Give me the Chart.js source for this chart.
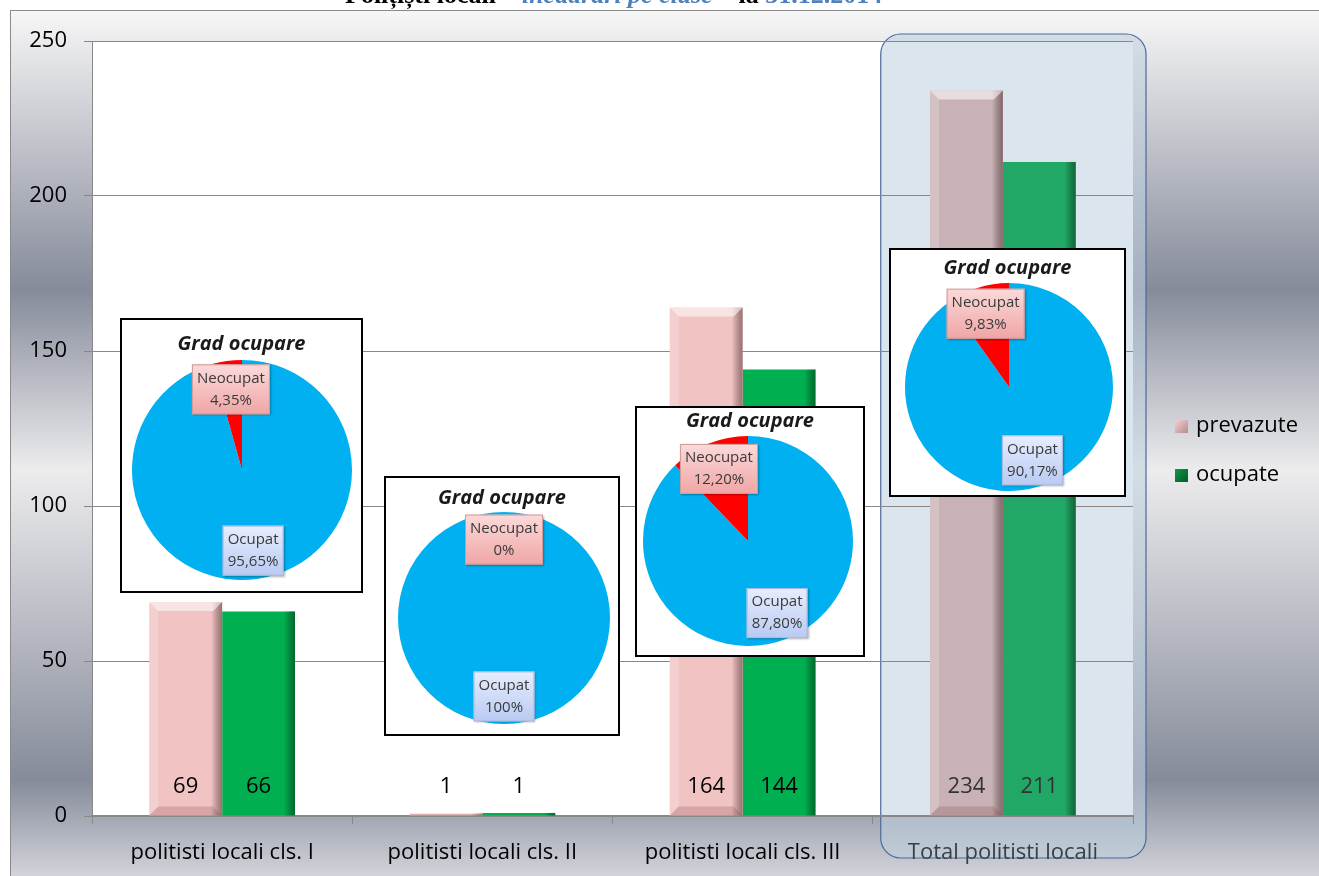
<!DOCTYPE html>
<html lang="ro">
<head>
<meta charset="UTF-8">
<title>Polițiști locali – încadrări pe clase</title>
<script src="https://cdn.jsdelivr.net/npm/chart.js@4.4.0/dist/chart.umd.min.js"></script>
<style>
  html, body { margin: 0; padding: 0; background: #fff; }
  body { width: 1319px; height: 876px; position: relative; overflow: hidden; font-family: "Open Sans", sans-serif; }
  #main { position: absolute; left: 0; top: 0; }
  .title { position: absolute; top: -18px; left: 345px; font: bold 26px "Liberation Serif", serif; line-height: 26px; white-space: nowrap; color: #000; }
  .title .blue { color: #4f81bd; }
  .title i { color: #4f81bd; }
  .legend { position: absolute; left: 1175px; font-size: 22px; color: #000; }
  .legend div { position: absolute; left: 0; height: 30px; line-height: 30px; white-space: nowrap; }
  .legend span.sw { display: inline-block; width: 13px; height: 13px; margin-right: 8px; vertical-align: -1px; }
  .inset { position: absolute; border: 2px solid #000; background: #fff; box-sizing: border-box; }
  .inset .t { position: absolute; left: 0; right: 0; margin: 0; text-align: center; font: italic bold 20px "Open Sans", sans-serif; line-height: 24px; color: #1a1a1a; }
  .inset canvas { position: absolute; left: 0; top: 0; }
</style>
</head>
<body>
<canvas id="main" width="1319" height="876"></canvas>
<div class="title">Polițiști locali – <i>încadrări pe clase</i> – la <span class="blue">31.12.2014</span></div>
<div class="legend">
  <div style="top:408px"><span class="sw" style="background:linear-gradient(135deg,#f4d0d0,#b78b8b)"></span>prevazute</div>
  <div style="top:457px"><span class="sw" style="background:linear-gradient(135deg,#0f9a4a,#005a28)"></span>ocupate</div>
</div>
<div id="insets"></div>

<script>
// chart data
const categories = ['politisti locali cls. I', 'politisti locali cls. II', 'politisti locali cls. III', 'Total politisti locali'];
const prevazute = [69, 1, 164, 234];
const ocupate = [66, 1, 144, 211];
const yTicks = [0, 50, 100, 150, 200, 250];

// pie insets (grad ocupare, %)
const sliceNames = ['Ocupat', 'Neocupat'];
const ocupatPct = [95.65, 100, 87.80, 90.17];
const neocupatPct = [4.35, 0, 12.20, 9.83];
const pieTitle = 'Grad ocupare';

const FONT = '"Open Sans", sans-serif';
const pink = '#f2c3c3', green = '#00b050';
const pinkTotal = '#c9b2b5', greenTotal = '#21a866';
const last = categories.length - 1;

// background, white plot area and the rounded highlight round the total
const backdrop = {
  id: 'backdrop',
  beforeDraw(chart) {
    const { ctx, chartArea: a, width, height, scales: { x } } = chart;
    ctx.save();
    ctx.fillStyle = '#fff';
    ctx.fillRect(0, 0, width, height);
    const g = ctx.createLinearGradient(0, 10, 0, height);
    g.addColorStop(0, '#f7f7f7');
    g.addColorStop(0.323, '#868b9b');
    g.addColorStop(0.531, '#ececed');
    g.addColorStop(0.889, '#868b9b');
    g.addColorStop(1, '#d2d4da');
    ctx.fillStyle = g;
    ctx.fillRect(10, 10, width - 10, height - 10);
    ctx.strokeStyle = '#8a8a8a';
    ctx.lineWidth = 1;
    ctx.strokeRect(10.5, 10.5, width, height);
    ctx.fillStyle = '#fff';
    ctx.fillRect(a.left, a.top, a.right - a.left, a.bottom - a.top);

    const half = (x.getPixelForValue(1) - x.getPixelForValue(0)) / 2;
    const c = x.getPixelForValue(last);
    const l = c - half + 8, r = c + half + 13, t = a.top - 7, b = 858;
    ctx.beginPath();
    ctx.roundRect(l, t, r - l, b - t, 20);
    ctx.fillStyle = 'rgba(190,208,222,0.55)';
    ctx.fill();
    ctx.strokeStyle = '#4a6a9a';
    ctx.lineWidth = 1.2;
    ctx.stroke();
    ctx.restore();
  }
};

// fake 3D bevel on the bars
const bevel = {
  id: 'bevel',
  afterDatasetsDraw(chart) {
    const ctx = chart.ctx;
    chart.data.datasets.forEach((ds, di) => {
      chart.getDatasetMeta(di).data.forEach(el => {
        const p = el.getProps(['x', 'y', 'base', 'width'], true);
        const l = p.x - p.width / 2, r = p.x + p.width / 2, t = p.y, b = p.base;
        const h = b - t;
        if (h <= 0) return;
        const d = Math.min(9, h / 2);
        ctx.save();
        const g = ctx.createLinearGradient(r - 11, 0, r, 0);
        g.addColorStop(0, 'rgba(0,0,0,0)');
        g.addColorStop(1, di === 0 ? 'rgba(70,30,30,0.5)' : 'rgba(0,40,10,0.5)');
        ctx.fillStyle = g;
        ctx.fillRect(r - 11, t, 11, h);
        if (di === 0) {
          ctx.beginPath();
          ctx.moveTo(l, t); ctx.lineTo(r, t); ctx.lineTo(r - d, t + d); ctx.lineTo(l + d, t + d);
          ctx.closePath();
          ctx.fillStyle = 'rgba(255,255,255,0.55)';
          ctx.fill();
          ctx.beginPath();
          ctx.moveTo(l, t); ctx.lineTo(l + d, t + d); ctx.lineTo(l + d, b - d); ctx.lineTo(l, b);
          ctx.closePath();
          ctx.fillStyle = 'rgba(255,255,255,0.2)';
          ctx.fill();
          ctx.beginPath();
          ctx.moveTo(l, b); ctx.lineTo(r, b); ctx.lineTo(r - d, b - d); ctx.lineTo(l + d, b - d);
          ctx.closePath();
          ctx.fillStyle = 'rgba(120,60,60,0.22)';
          ctx.fill();
        }
        ctx.restore();
      });
    });
  }
};

// value labels near the base of every bar
const valueLabels = {
  id: 'valueLabels',
  afterDatasetsDraw(chart) {
    const { ctx, chartArea: a } = chart;
    ctx.save();
    ctx.font = '22px ' + FONT;
    ctx.textAlign = 'center';
    ctx.textBaseline = 'middle';
    chart.data.datasets.forEach((ds, di) => {
      chart.getDatasetMeta(di).data.forEach((el, i) => {
        ctx.fillStyle = i === last ? '#333' : '#000';
        ctx.fillText(String(ds.data[i]), el.x, a.bottom - 29);
      });
    });
    ctx.restore();
  }
};

new Chart(document.getElementById('main'), {
  type: 'bar',
  data: {
    labels: categories,
    datasets: [
      { label: 'prevazute', data: prevazute, backgroundColor: categories.map((c, i) => i === last ? pinkTotal : pink) },
      { label: 'ocupate', data: ocupate, backgroundColor: categories.map((c, i) => i === last ? greenTotal : green) }
    ]
  },
  options: {
    responsive: false,
    animation: false,
    layout: { padding: { left: 0, top: 41, right: 186, bottom: 0 } },
    datasets: { bar: { categoryPercentage: 0.56, barPercentage: 1 } },
    plugins: { legend: { display: false }, tooltip: { enabled: false } },
    scales: {
      x: {
        grid: { drawOnChartArea: false, color: '#888', tickLength: 8, offset: true },
        border: { color: '#888', width: 2 },
        ticks: {
          color: c => c.index === last ? '#3a3f46' : '#000',
          font: { size: 22, family: FONT }, padding: 16, maxRotation: 0, autoSkip: false
        },
        afterFit(s) { s.height = 60; }
      },
      y: {
        min: yTicks[0],
        max: yTicks[yTicks.length - 1],
        ticks: { stepSize: yTicks[1] - yTicks[0], color: '#000', font: { size: 22, family: FONT }, padding: 17 },
        grid: { color: '#878787', tickLength: 8 },
        border: { color: '#888', width: 1 },
        afterFit(s) { s.width = 92; }
      }
    }
  },
  plugins: [backdrop, bevel, valueLabels]
});

// ---- pie insets ----
function fmtPct(v) {
  return (Number.isInteger(v) ? String(v) : v.toFixed(2).replace('.', ',')) + '%';
}

const pieLabels = {
  id: 'pieLabels',
  afterDatasetsDraw(chart) {
    const ctx = chart.ctx;
    const ds = chart.data.datasets[0];
    chart.getDatasetMeta(0).data.forEach((arc, i) => {
      const p = arc.getProps(['x', 'y', 'startAngle', 'endAngle', 'outerRadius'], true);
      const mid = (p.startAngle + p.endAngle) / 2;
      const rr = p.outerRadius * 0.74;
      const px = p.x + Math.cos(mid) * rr, py = p.y + Math.sin(mid) * rr;
      const lines = [chart.data.labels[i], fmtPct(ds.data[i])];
      ctx.save();
      ctx.font = '15px ' + FONT;
      const w = Math.max(...lines.map(s => ctx.measureText(s).width)) + 10;
      const h = 50;
      const g = ctx.createLinearGradient(0, py - h / 2, 0, py + h / 2);
      if (i === 1) { g.addColorStop(0, '#fbdada'); g.addColorStop(1, '#f0a5a5'); }
      else { g.addColorStop(0, '#e6edfd'); g.addColorStop(1, '#b9caf2'); }
      ctx.shadowColor = 'rgba(0,0,0,0.3)';
      ctx.shadowOffsetX = 1; ctx.shadowOffsetY = 1; ctx.shadowBlur = 2;
      ctx.fillStyle = g;
      ctx.fillRect(px - w / 2, py - h / 2, w, h);
      ctx.shadowColor = 'transparent';
      ctx.strokeStyle = i === 1 ? '#d29a9a' : '#a9b8df';
      ctx.lineWidth = 1;
      ctx.strokeRect(px - w / 2 + 0.5, py - h / 2 + 0.5, w - 1, h - 1);
      ctx.fillStyle = '#3a3a3a';
      ctx.textAlign = 'center';
      ctx.textBaseline = 'middle';
      ctx.fillText(lines[0], px, py - 11);
      ctx.fillText(lines[1], px, py + 11);
      ctx.restore();
    });
  }
};

const insets = [
  { left: 120, top: 318, w: 243, h: 275, cx: 242, cy: 470, r: 110, ty: 343 },
  { left: 384, top: 476, w: 236, h: 260, cx: 504, cy: 618, r: 106, ty: 497 },
  { left: 635, top: 406, w: 230, h: 251, cx: 748, cy: 541, r: 105, ty: 420 },
  { left: 889, top: 248, w: 237, h: 249, cx: 1009, cy: 387, r: 104, ty: 267 }
];

const holder = document.getElementById('insets');
insets.forEach((b, k) => {
  const box = document.createElement('div');
  box.className = 'inset';
  box.style.left = b.left + 'px';
  box.style.top = b.top + 'px';
  box.style.width = b.w + 'px';
  box.style.height = b.h + 'px';
  const cv = document.createElement('canvas');
  const iw = b.w - 4, ih = b.h - 4;
  cv.width = iw; cv.height = ih;
  box.appendChild(cv);
  const t = document.createElement('div');
  t.className = 't';
  t.textContent = pieTitle;
  t.style.top = (b.ty - b.top - 2 - 12) + 'px';
  box.appendChild(t);
  holder.appendChild(box);

  const rx = b.cx - b.left - 2, ry = b.cy - b.top - 2;
  new Chart(cv, {
    type: 'pie',
    data: {
      labels: sliceNames,
      datasets: [{
        data: [ocupatPct[k], neocupatPct[k]],
        backgroundColor: ['#00b0f0', '#ff0000'],
        borderWidth: 0
      }]
    },
    options: {
      responsive: false,
      animation: false,
      layout: { padding: { left: rx - b.r, right: iw - rx - b.r, top: ry - b.r, bottom: ih - ry - b.r } },
      plugins: { legend: { display: false }, tooltip: { enabled: false } }
    },
    plugins: [pieLabels]
  });
});
</script>
</body>
</html>
